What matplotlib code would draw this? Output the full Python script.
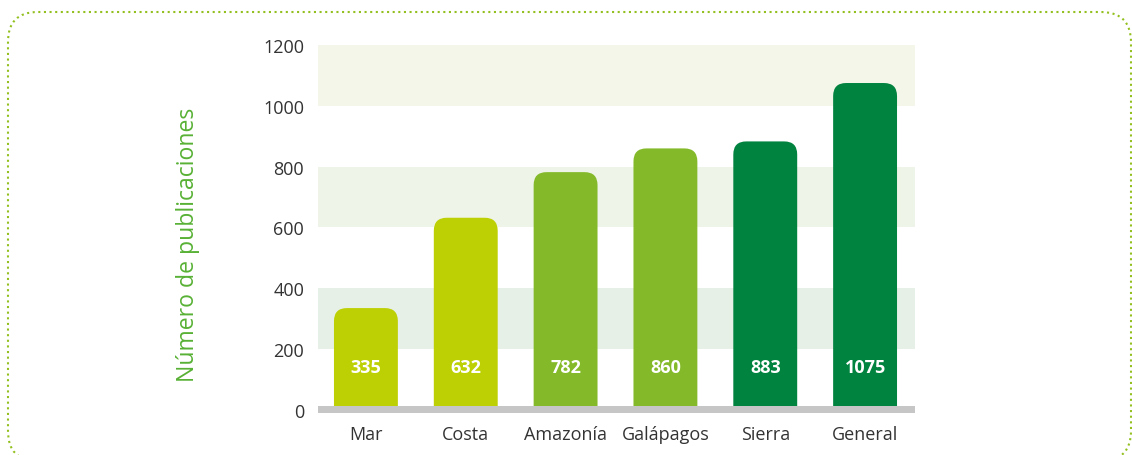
import matplotlib.pyplot as plt
from matplotlib.patches import FancyBboxPatch

plt.rcParams['font.family'] = ['Open Sans', 'DejaVu Sans']

# datos
regiones = ["Mar", "Costa", "Amazonía", "Galápagos", "Sierra", "General"]
publicaciones = [335, 632, 782, 860, 883, 1075]
colores = ["#BDD003", "#BDD003", "#84BA29", "#84BA29", "#018340", "#018340"]
bandas = [(200, 400, "#E7F0E7"), (600, 800, "#EFF4E8"), (1000, 1200, "#F4F6E9")]
y_ticks = [0, 200, 400, 600, 800, 1000, 1200]

fig = plt.figure(figsize=(11.32, 4.56), dpi=100)
ax = fig.add_axes([318 / 1132, 42 / 456, 597 / 1132, 368 / 456])
ax.set_xlim(-0.48, 5.5)
ax.set_ylim(-10, 1200)

for lo, hi, c in bandas:
    ax.axhspan(lo, hi, color=c, lw=0, zorder=0)

# barras con esquinas superiores redondeadas (la parte inferior queda recortada)
ancho = 0.64
aspecto = (1210 / 368) / (1 / 100)
for i, (v, c) in enumerate(zip(publicaciones, colores)):
    p = FancyBboxPatch((i - ancho / 2, -80), ancho, v + 80,
                       boxstyle="round,pad=0,rounding_size=0.13",
                       mutation_aspect=aspecto, fc=c, ec="none", zorder=2)
    ax.add_patch(p)
    ax.text(i, 140, str(v), color="white", fontsize=13, fontweight="bold",
            ha="center", va="center", zorder=4)

ax.axhspan(-10, 12, color="#C6C6C6", lw=0, zorder=3)

ax.set_xticks(range(len(regiones)))
ax.set_xticklabels(regiones)
ax.set_yticks(y_ticks)
ax.tick_params(length=0, labelsize=13, colors="#333333")
ax.tick_params(axis="y", pad=10)
ax.tick_params(axis="x", pad=9)
for s in ax.spines.values():
    s.set_visible(False)
ax.set_ylabel("Número de publicaciones", color="#58B135", fontsize=16.6, va="center")
ax.yaxis.set_label_coords(-0.218, 0.459)

# marco punteado redondeado
marco = FancyBboxPatch((0.08, -0.06), 11.23, 4.49,
                       boxstyle="round,pad=0,rounding_size=0.3",
                       transform=fig.dpi_scale_trans, fc="none", ec="#93C01F",
                       lw=1.5, ls=(0, (1, 1.7)))
fig.patches.append(marco)

fig.savefig("out.png", dpi=100)
